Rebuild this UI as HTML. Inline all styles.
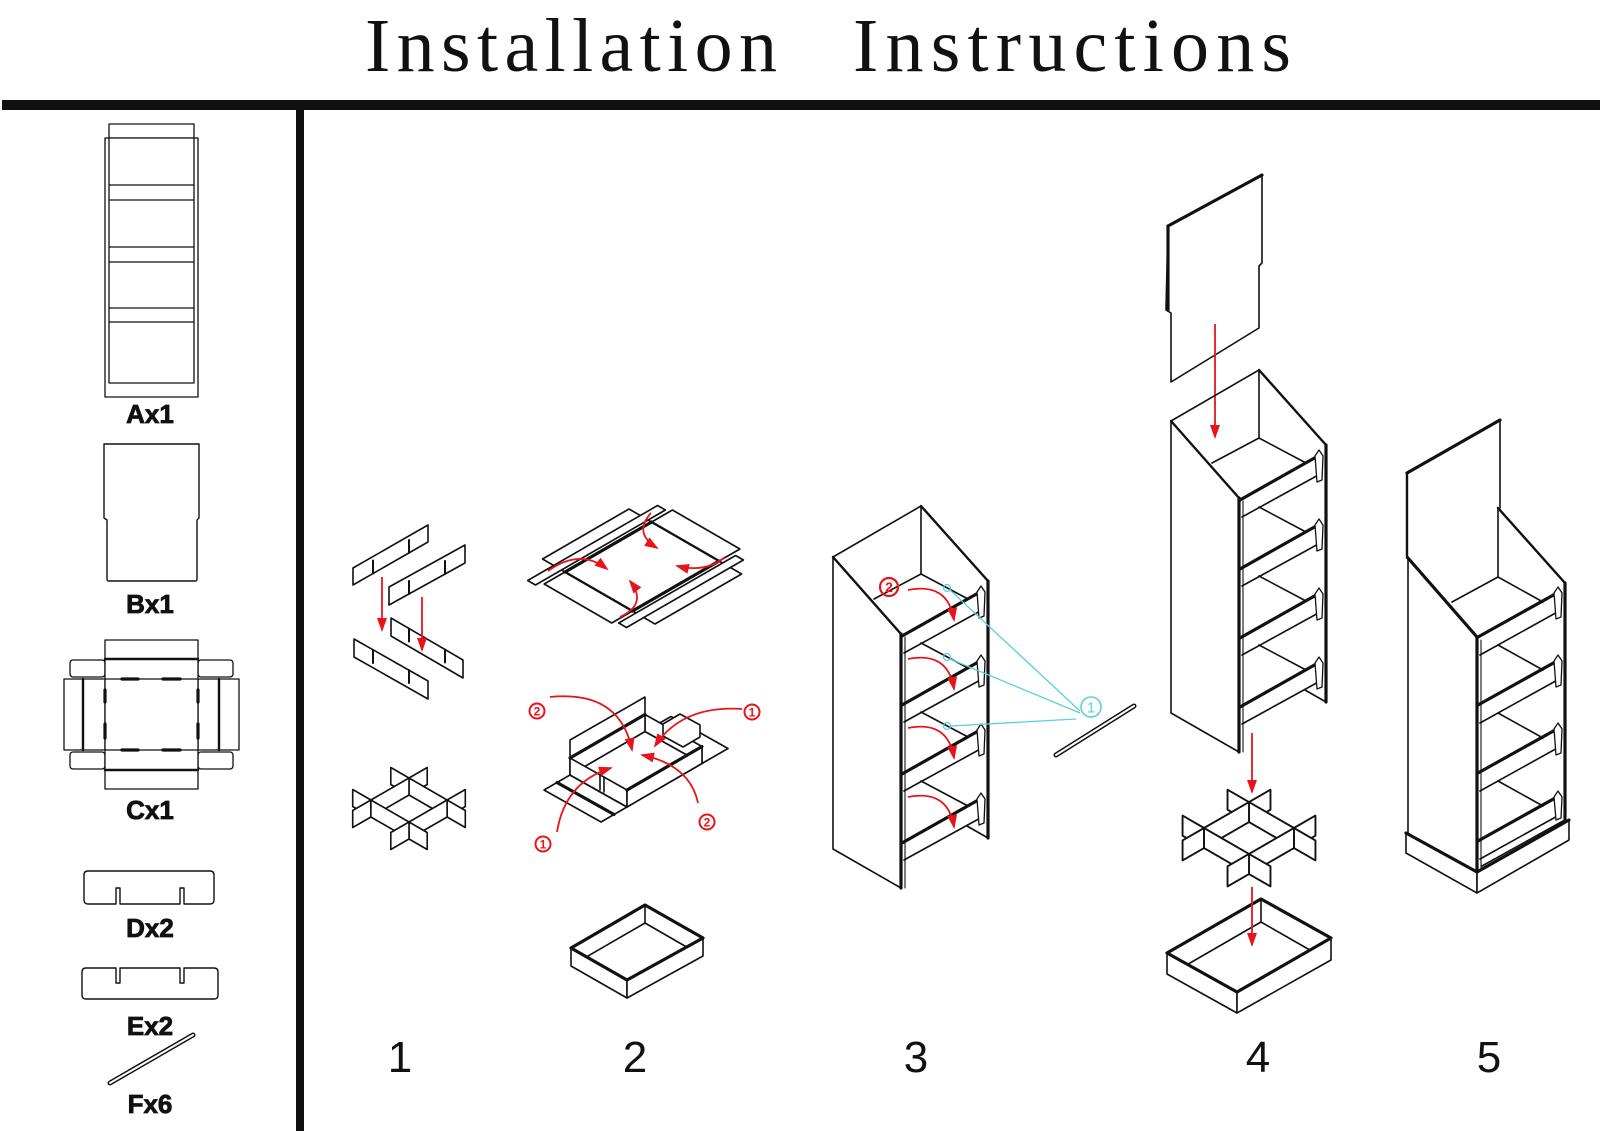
<!DOCTYPE html>
<html><head><meta charset="utf-8">
<style>
html,body{margin:0;padding:0;background:#fff;}
svg{display:block}
.l{fill:none;stroke:#111;stroke-width:1.6;stroke-linejoin:round;stroke-linecap:round}
.w{fill:#fff;stroke:#111;stroke-width:1.6;stroke-linejoin:round}
.t{stroke-width:3.2}
.m{stroke-width:2.4}
.h{stroke-width:1.1}
.r{fill:none;stroke:#e8141b;stroke-width:1.8}
.c{fill:none;stroke:#5ccfd8;stroke-width:1.3}
.lab{font-family:"Liberation Sans",sans-serif;font-weight:bold;font-size:26px;fill:#111;stroke:#111;stroke-width:0.8;text-anchor:middle}
.num{font-family:"Liberation Sans",sans-serif;font-size:44px;fill:#111;text-anchor:middle}
.rn{font-family:"Liberation Sans",sans-serif;font-weight:bold;font-size:12px;fill:#e8141b;text-anchor:middle}
.cn{font-family:"Liberation Sans",sans-serif;font-size:15px;fill:#5ccfd8;text-anchor:middle}
</style></head><body>
<svg width="1600" height="1131" viewBox="0 0 1600 1131" xmlns="http://www.w3.org/2000/svg">
<defs>
<marker id="ah" viewBox="0 0 14 10" refX="12" refY="5" markerWidth="14" markerHeight="10" markerUnits="userSpaceOnUse" orient="auto">
<path d="M0,0 L14,5 L0,10 z" fill="#e8141b"/>
</marker>
<g id="grid">
<polygon class="w" points="-18.2,-32.5 0,-22 0,-5 -18.2,-15.5"/>
<polygon class="w" points="18.2,-32.5 0,-22 0,-5 18.2,-15.5"/>
<polygon class="w" points="0,-22 38.1,0 38.1,17 0,-5"/>
<polygon class="w" points="0,-22 -38.1,0 -38.1,17 0,-5"/>
<polygon class="w" points="-56.3,-10.5 -38.1,0 -38.1,17 -56.3,6.5"/>
<polygon class="w" points="56.3,-10.5 38.1,0 38.1,17 56.3,6.5"/>
<polygon class="w" points="38.1,0 56.3,10.5 56.3,27.5 38.1,17"/>
<polygon class="w" points="-38.1,0 -56.3,10.5 -56.3,27.5 -38.1,17"/>
<polygon class="w" points="-38.1,0 0,22 0,39 -38.1,17"/>
<polygon class="w" points="38.1,0 0,22 0,39 38.1,17"/>
<polygon class="w" points="0,22 18.2,32.5 18.2,49.5 0,39"/>
<polygon class="w" points="0,22 -18.2,32.5 -18.2,49.5 0,39"/>
</g>
<g id="cab">
<path class="l" d="M1171,421 L1259,370 L1259,438"/>
<path class="l m" d="M1259,370 L1326,445"/>
<path class="l t" d="M1326,445 V702"/>
<path class="l" d="M1305,690 L1326,702"/>
<path class="l" d="M1171,421 V713 L1239,752"/>
<path class="l m" d="M1171,421 L1239,498"/>
<path class="l t" d="M1239,498 V752"/>
<path class="l h" d="M1243,501 V752"/>
<!-- shelf 1 -->
<path class="l" d="M1212,463 L1259,438 L1306,463"/>
<path class="l t" d="M1240,500 L1318,456"/>
<path class="l" d="M1242,517 L1322,473"/>
<path class="w" style="stroke-width:1.3" d="M1315,456 L1319,450 L1323,456 L1322,480 L1317,482 Z"/>
<!-- shelf 2 -->
<path class="l" d="M1259,507 L1306,532"/>
<path class="l t" d="M1240,569 L1318,525"/>
<path class="l" d="M1242,586 L1322,542"/>
<path class="w" style="stroke-width:1.3" d="M1315,525 L1319,519 L1323,525 L1322,549 L1317,551 Z"/>
<!-- shelf 3 -->
<path class="l" d="M1259,576 L1306,601"/>
<path class="l t" d="M1240,638 L1318,594"/>
<path class="l" d="M1242,655 L1322,611"/>
<path class="w" style="stroke-width:1.3" d="M1315,594 L1319,588 L1323,594 L1322,618 L1317,620 Z"/>
<!-- shelf 4 -->
<path class="l" d="M1259,645 L1306,670"/>
<path class="l t" d="M1240,707 L1318,663"/>
<path class="l" d="M1242,724 L1322,680"/>
<path class="w" style="stroke-width:1.3" d="M1315,663 L1319,657 L1323,663 L1322,687 L1317,689 Z"/>
</g>
</defs>

<rect width="1600" height="1131" fill="#fff"/>

<!-- Title -->
<text x="365" y="71" font-family="Liberation Serif, serif" font-size="76" fill="#111" textLength="412" lengthAdjust="spacing">Installation</text>
<text x="853" y="71" font-family="Liberation Serif, serif" font-size="76" fill="#111" textLength="438" lengthAdjust="spacing">Instructions</text>

<!-- bars -->
<rect x="2" y="100" width="1598" height="10" fill="#111"/>
<rect x="296" y="105" width="8" height="1026" fill="#111"/>

<!-- ===== Left column parts ===== -->
<!-- A -->
<rect class="w" x="109" y="124" width="85" height="14" style="stroke-width:1.3"/>
<rect class="w" x="105" y="138" width="93" height="259" style="stroke-width:1.3"/>
<path class="l" style="stroke-width:1.3" d="M109,138 V383 H194 V138"/>
<path class="l" style="stroke-width:1.3" d="M109,185 H194 M109,200 H194 M109,247 H194 M109,262 H194 M109,308 H194 M109,322 H194"/>
<text class="lab" x="150" y="423">Ax1</text>

<!-- B -->
<path class="w" style="stroke-width:1.4" d="M104,444 H199 V518 L197,520 V579 Q197,581 195,581 H109 Q107,581 107,579 V520 L104,518 Z"/>
<text class="lab" x="150" y="613">Bx1</text>

<!-- C -->
<rect class="w" x="105" y="640" width="93" height="19" style="stroke-width:1.3"/>
<rect class="w" x="105" y="770" width="93" height="19" style="stroke-width:1.3"/>
<rect class="w" x="70" y="660" width="35" height="17" rx="3" style="stroke-width:1.3"/>
<rect class="w" x="70" y="752" width="35" height="17" rx="3" style="stroke-width:1.3"/>
<rect class="w" x="198" y="660" width="35" height="17" rx="3" style="stroke-width:1.3"/>
<rect class="w" x="198" y="752" width="35" height="17" rx="3" style="stroke-width:1.3"/>
<rect class="w" x="64" y="679" width="19" height="71" style="stroke-width:1.3"/>
<rect class="w" x="83" y="679" width="22" height="71" style="stroke-width:1.3"/>
<rect class="w" x="198" y="679" width="21" height="71" style="stroke-width:1.3"/>
<rect class="w" x="219" y="679" width="20" height="71" style="stroke-width:1.3"/>
<rect class="w" x="105" y="659" width="93" height="111" style="stroke-width:1.3"/>
<path class="l" style="stroke-width:1.3" d="M105,679 H198 M105,750 H198"/>
<path class="l m" d="M105,659 H198 M105,770 H198 M83,679 V750 M219,679 V750"/>
<path class="l t" d="M122,679 H138 M163,679 H180 M122,750 H138 M163,750 H180 M105,690 V702 M105,724 V738 M198,690 V702 M198,724 V738"/>
<text class="lab" x="150" y="819">Cx1</text>

<!-- D -->
<path class="w" style="stroke-width:1.4" d="M88,871 H210 Q214,871 214,875 V900 Q214,904 210,904 H184 V888 H180 V904 H120 V888 H116 V904 H88 Q84,904 84,900 V875 Q84,871 88,871 Z"/>
<text class="lab" x="150" y="937">Dx2</text>

<!-- E -->
<path class="w" style="stroke-width:1.4" d="M86,968 H116 V983 H120 V968 H180 V983 H184 V968 H214 Q218,968 218,972 V995 Q218,999 214,999 H86 Q82,999 82,995 V972 Q82,968 86,968 Z"/>
<text class="lab" x="150" y="1035">Ex2</text>

<!-- F -->
<path d="M110,1083 L193,1035" stroke="#111" stroke-width="5" stroke-linecap="round"/>
<path d="M110,1083 L193,1035" stroke="#fff" stroke-width="2" stroke-linecap="round"/>
<text class="lab" x="150" y="1113">Fx6</text>

<!-- ===== Step 1 ===== -->
<polygon class="w" points="353,568 428,525 428,542 353,585"/>
<path class="l" style="stroke-width:2" d="M373,573.5 V560.5 M409,552.9 V540"/>
<polygon class="w" points="389,587 465,545 465,563 389,605"/>
<path class="l" style="stroke-width:2" d="M409,594 V581 M445,574 V561"/>
<polygon class="w" points="354,639 428,681 428,699 354,657"/>
<path class="l" style="stroke-width:2" d="M373,650 V663 M409,670 V683"/>
<polygon class="w" points="391,618 463,660 463,678 391,636"/>
<path class="l" style="stroke-width:2" d="M409,628.5 V641.5 M445,649.5 V662.5"/>
<path class="r" d="M382,577 V630" marker-end="url(#ah)"/>
<path class="r" d="M422,597 V650" marker-end="url(#ah)"/>

<use href="#grid" transform="translate(409,800)"/>

<!-- ===== Step 2 ===== -->
<!-- flat blank -->
<polygon class="w" points="565,572 651.6,522 629,509 542.5,559"/>
<polygon class="w" points="632.5,611 719.1,561 741.6,574 655,624"/>
<polygon class="w" points="651.6,522 719.1,561 739.9,549 672.4,510"/>
<polygon class="w" points="565,572 632.5,611 611.7,623 544.2,584"/>
<polygon class="w" points="565,572 651.6,522 719.1,561 632.5,611" style="stroke:none"/>
<polygon class="w" points="535.5,585 665.4,510 657.6,505.5 527.7,580.5"/>
<polygon class="w" points="618.7,623 735.6,555.5 743.4,560 626.5,627.5"/>
<path class="l t" d="M565,572 L651.6,522 M719.1,561 L632.5,611"/>
<path class="l m" d="M651.6,522 L719.1,561 M565,572 L632.5,611"/>
<path class="r" d="M548,571 Q580,548 607,569" marker-end="url(#ah)"/>
<path class="r" d="M651,513 Q633,533 657,548" marker-end="url(#ah)"/>
<path class="r" d="M725,557 Q706,573 677,566" marker-end="url(#ah)"/>
<path class="r" d="M620,617 Q648,604 630,581" marker-end="url(#ah)"/>

<!-- partially folded -->
<path class="w" d="M570,775 L627,807 L601,822 L544,790 Z"/>
<path class="l t" d="M557,782.5 L614,814.5"/>
<path class="w" d="M645,731.5 L702,763.5 L728,748.5 L671,716.5 Z"/>
<path class="w" d="M570,775 L645,731.5 L702,763.5 L627,807 Z"/>
<path class="w" d="M645,731.5 L702,763.5 L702,746.5 L645,714.5 Z"/>
<path class="w" d="M663,724 L680,714 L700,725 L700,737 L683,747 L663,736 Z"/>
<path class="w" d="M570,775 L645,731.5 L645,697 L570,740 Z"/>
<path class="l t" d="M570,758 L645,714.5"/>
<path class="w" d="M570,775 L627,807 L627,790 L570,758 Z"/>
<path class="l" d="M600,775 V790 M604,777 V792"/>
<path class="w" d="M627,807 L702,763.5 L702,746.5 L627,790 Z"/>
<path class="l t" d="M627,790 L702,746.5"/>
<path class="r" d="M550,697 Q620,690 632,750" marker-end="url(#ah)"/>
<path class="r" d="M742,709 Q682,705 655,746" marker-end="url(#ah)"/>
<path class="r" d="M698,803 Q690,765 642,755" marker-end="url(#ah)"/>
<path class="r" d="M557,832 Q565,782 611,768" marker-end="url(#ah)"/>
<circle cx="537" cy="711" r="7.5" fill="none" stroke="#e8141b" stroke-width="2"/><text class="rn" x="537" y="715.5">2</text>
<circle cx="752" cy="712" r="7.5" fill="none" stroke="#e8141b" stroke-width="2"/><text class="rn" x="752" y="716.5">1</text>
<circle cx="707" cy="822" r="7.5" fill="none" stroke="#e8141b" stroke-width="2"/><text class="rn" x="707" y="826.5">2</text>
<circle cx="543" cy="844" r="7.5" fill="none" stroke="#e8141b" stroke-width="2"/><text class="rn" x="543" y="848.5">1</text>

<!-- tray -->
<path class="w" d="M571,948 L627,980 L627,998 L571,966 Z"/>
<path class="w" d="M627,980 L703,938 L703,956 L627,998 Z"/>
<path class="w" d="M645,905 L571,948 L627,980 L703,938 Z"/>
<path class="l" d="M645,905 V923 M645,923 L586.4,956.9 M645,923 L686.6,947"/>
<path class="l t" d="M645,905 L571,948 L627,980 L703,938 Z"/>

<!-- ===== Step 3 ===== -->
<use href="#cab" transform="translate(-338,136)"/>
<circle cx="947" cy="588" r="3.5" class="c"/>
<circle cx="947" cy="657" r="3.5" class="c"/>
<circle cx="947" cy="726" r="3.5" class="c"/>
<path class="c" d="M1080,711 L950,590 M1080,713 L950,659 M1076,719 L951,726"/>
<circle cx="1091" cy="707" r="10" class="c" style="stroke-width:1.6"/>
<text class="cn" x="1091" y="712.5">1</text>
<path class="r" d="M908,590 Q948,582 954,620" marker-end="url(#ah)"/>
<path class="r" d="M908,659 Q948,651 954,689" marker-end="url(#ah)"/>
<path class="r" d="M908,728 Q948,720 954,758" marker-end="url(#ah)"/>
<path class="r" d="M908,797 Q948,789 954,827" marker-end="url(#ah)"/>
<circle cx="889" cy="587" r="9" fill="none" stroke="#e8141b" stroke-width="2.2"/><text class="rn" x="889" y="592" style="font-size:14px">2</text>
<path d="M1056,755 L1134,706" stroke="#111" stroke-width="5" stroke-linecap="round"/>
<path d="M1056,755 L1134,706" stroke="#fff" stroke-width="2" stroke-linecap="round"/>

<!-- ===== Step 4 ===== -->
<path class="w" d="M1168,226 L1262,175 L1262,263 L1259,266 L1259,328 L1171,382 L1171,313 L1166,310 Z"/>
<path class="l t" d="M1168,226 L1262,175 M1168,226 V310"/>
<path class="r" d="M1215,324 V437" marker-end="url(#ah)"/>
<use href="#cab"/>
<path class="r" d="M1252,733 V792" marker-end="url(#ah)"/>
<use href="#grid" transform="translate(1249,828) scale(1.18)"/>
<path class="w" d="M1167,953 L1237,992 L1237,1013 L1167,974 Z"/>
<path class="w" d="M1237,992 L1331,938 L1331,960 L1237,1013 Z"/>
<path class="w" d="M1261,899 L1167,953 L1237,992 L1331,938 Z"/>
<path class="l" d="M1261,899 V922 M1261,922 L1187.4,964.5 M1261,922 L1309.8,950"/>
<path class="l t" d="M1261,899 L1167,953 L1237,992 L1331,938 Z"/>
<path class="r" d="M1252,887 V945" marker-end="url(#ah)"/>

<!-- ===== Step 5 ===== -->
<path class="l m" d="M1407,558 V473"/>
<path class="l t" d="M1407,473 L1500,420"/>
<path class="l" d="M1500,420 V508"/>
<path class="l t" d="M1408,558 L1477,637"/>
<path class="l" d="M1408,558 V833"/>
<path class="l" d="M1498,508 V577 M1452,602 L1498,577 L1543,602"/>
<path class="l m" d="M1498,508 L1565,583"/>
<path class="l t" d="M1565,583 V822"/>
<!-- shelves -->
<path class="l t" d="M1478,637 L1557,593"/>
<path class="l" d="M1480,655 L1561,610"/>
<path class="w" style="stroke-width:1.3" d="M1554,593 L1558,587 L1562,593 L1561,617 L1556,619 Z"/>
<path class="l" d="M1498,645 L1543,670"/>
<path class="l t" d="M1478,705 L1557,661"/>
<path class="l" d="M1480,723 L1561,678"/>
<path class="w" style="stroke-width:1.3" d="M1554,661 L1558,655 L1562,661 L1561,685 L1556,687 Z"/>
<path class="l" d="M1498,713 L1543,738"/>
<path class="l t" d="M1478,773 L1557,729"/>
<path class="l" d="M1480,791 L1561,746"/>
<path class="w" style="stroke-width:1.3" d="M1554,729 L1558,723 L1562,729 L1561,753 L1556,755 Z"/>
<path class="l" d="M1498,781 L1543,806"/>
<path class="l t" d="M1478,841 L1557,797"/>
<path class="l" d="M1480,859 L1561,814"/>
<path class="w" style="stroke-width:1.3" d="M1554,797 L1558,791 L1562,797 L1561,818 L1556,820 Z"/>
<path class="l t" d="M1477,637 V872"/>
<path class="l h" d="M1481,640 V869"/>
<!-- plinth -->
<path class="w" d="M1406,833 L1477,872 L1477,893 L1406,853 Z"/>
<path class="w" d="M1477,872 L1569,820 L1569,840 L1477,893 Z"/>
<path class="l t" d="M1406,833 L1477,872 L1569,820"/>
<path class="l" d="M1482,866 L1563,821"/>

<!-- step numbers -->
<text class="num" x="400" y="1072">1</text>
<text class="num" x="635" y="1072">2</text>
<text class="num" x="916" y="1072">3</text>
<text class="num" x="1258" y="1072">4</text>
<text class="num" x="1489" y="1072">5</text>
</svg>
</body></html>
